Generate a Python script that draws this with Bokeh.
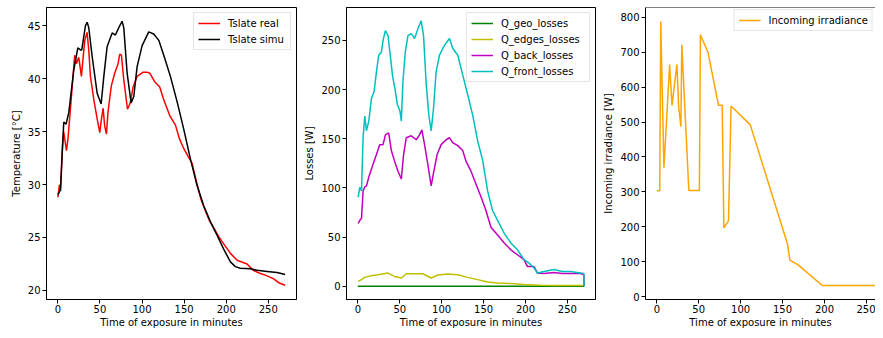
from bokeh.plotting import figure
from bokeh.layouts import row
from bokeh.models import Range1d, FixedTicker, Span
from bokeh.embed import file_html
from bokeh.resources import INLINE

FONT = "DejaVu Sans"

# ---------------- data ----------------
x_ticks = [0, 50, 100, 150, 200, 250]
temp_ticks = [20, 25, 30, 35, 40, 45]
loss_ticks = [0, 50, 100, 150, 200, 250]
irr_ticks = [0, 100, 200, 300, 400, 500, 600, 700, 800]

t_real = [0, 1.9, 3.1, 5.5, 6.9, 10.2, 12.0, 14.9, 20.0, 22.0, 24.8, 28.0, 30.0, 32.0,
          34.7, 36.7, 38.7, 42.7, 46.7, 49.8, 51.8, 53.8, 55.5, 57.7, 59.5, 63.5, 67.5,
          71.5, 73.5, 75.5, 78.3, 82.7, 86, 89.4, 94.1, 101.3, 106, 109.2, 115, 121,
          125.8, 132.9, 139.7, 144.5, 149.5, 155, 159.5, 165.4, 170, 175.3, 180, 185.2,
          191, 197, 205, 213, 224.8, 232, 240.6, 248, 256.4, 263, 270]
temp_real = [28.8, 30.0, 29.4, 33.7, 35.0, 33.2, 34.3, 37.1, 42.2, 41.4, 42.0, 40.2, 42.0,
             43.6, 44.35, 42.7, 40.2, 38.0, 36.2, 34.9, 36.2, 37.2, 35.6, 34.75, 36.8,
             39.3, 40.5, 41.4, 42.3, 42.2, 39.9, 37.1, 37.7, 39.2, 40.2, 40.6, 40.6, 40.5,
             39.7, 39.2, 38.0, 36.5, 35.6, 34.3, 33.4, 32.6, 32.0, 30.0, 28.6, 27.5, 26.6,
             25.9, 25.1, 24.4, 23.5, 22.85, 22.5, 21.9, 21.6, 21.4, 21.1, 20.7, 20.5]

t_simu = [0, 3.1, 7.0, 9.8, 13.0, 18.9, 23.7, 26.8, 28.4, 32.8, 34.8, 36.7, 40.7, 46.7,
          51.4, 54.6, 58.5, 64.5, 68.4, 72.4, 76.3, 78.3, 82.3, 87, 90.2, 94.1, 100.1,
          108, 113.9, 119.9, 125.8, 133.7, 141.7, 149.6, 157.5, 165.4, 173.3, 181.2,
          189.2, 197, 205, 210.9, 216.8, 228.7, 236.6, 248.5, 260.4, 270]
temp_simu = [29.05, 29.5, 35.9, 35.7, 36.8, 40.8, 42.9, 42.7, 42.7, 45.0, 45.3, 44.8, 42.1,
             38.6, 37.6, 40.2, 43.0, 44.3, 44.1, 44.8, 45.4, 44.8, 40.5, 37.7, 38.3, 41.1,
             43.1, 44.4, 44.2, 43.6, 42.2, 40.2, 37.8, 35.2, 32.4, 29.9, 28.0, 26.5, 25.2,
             23.9, 22.7, 22.25, 22.1, 22.05, 21.9, 21.8, 21.7, 21.5]

t_geo = [0, 270]
q_geo = [0, 0]

t_edges = [0.4, 4.4, 8.3, 16.2, 24.1, 36, 43.9, 51.9, 57.8, 67.7, 77.6, 87.5, 95.4, 107.3,
           119.2, 131, 142.9, 154.8, 166.7, 182.5, 198.3, 218.1, 237.9, 269.6]
q_edges = [5, 6.7, 9, 10.7, 11.7, 13.4, 10, 8.4, 12.7, 12.7, 12.7, 8.4, 11.4, 12.4, 11.7, 9,
           6.7, 4.4, 3.4, 2.7, 1.7, 1.0, 0.7, 0.7]

t_back = [0.4, 2.4, 4.4, 6.3, 8.3, 10.3, 13.1, 18.2, 22.2, 26.1, 30.1, 32.9, 36.8, 40,
          43.9, 47.9, 51.9, 54.6, 57.8, 63.7, 69.7, 73.6, 76.4, 79.6, 83.5, 87.5, 90.7,
          94.6, 99.4, 105.3, 109.3, 113.2, 119.2, 125.1, 129.1, 135, 140.9, 146.9, 152.8,
          158.8, 166.7, 174.6, 182.5, 190.4, 198.3, 202.3, 210.2, 214.2, 222.1, 234,
          243.9, 253.8, 265.6, 269.6, 270]
q_back = [63.8, 67, 69, 97, 101, 102, 111, 124, 134, 144, 144, 154, 156, 138, 127, 117, 109,
          134, 151, 153, 149, 154, 159, 144, 124, 102, 117, 134, 144, 149, 151, 146, 143,
          138, 127, 117, 104, 91, 77, 60, 52, 44, 37, 32, 27, 20, 20, 13.5, 13, 14, 13, 13,
          13, 12, 0]

t_front = [0.4, 2.4, 4.4, 6.3, 8.3, 10.3, 13.1, 16.2, 19.4, 22.2, 24.9, 28.1, 30.1, 32.9,
           36.0, 39.2, 41.6, 44.3, 47.1, 50.3, 51.9, 53.8, 56.6, 59.8, 63.7, 67.7, 71.7,
           75.6, 78.4, 81.6, 84.7, 87.5, 90.3, 93.4, 97.4, 103.3, 109.3, 113.2, 119.2,
           125.1, 131.0, 137.0, 142.9, 148.9, 154.8, 160.7, 166.7, 174.6, 182.5, 190.4,
           198.3, 204.3, 210.2, 214.2, 222.1, 234.0, 243.9, 253.8, 265.6, 269.6, 270]
q_front = [90.6, 100.7, 97, 151, 173, 158, 168, 191, 198, 218, 235, 238, 250, 260, 255, 231,
           213, 201, 185, 178, 168, 208, 238, 255, 257, 252, 262, 270, 255, 205, 174, 158,
           181, 218, 235, 245, 252, 242, 235, 215, 195, 174, 148, 128, 97, 77, 67, 54, 44,
           37, 27, 23.5, 18.5, 13.5, 15, 17, 15, 15, 13.5, 13, 0]

t_irr = [0, 3.5, 4.7, 8.5, 15.3, 18.1, 24, 26, 28.7, 29.8, 38.2, 50.8, 52, 61, 73.6, 78,
         80, 85.5, 88.6, 111.5, 156, 158.7, 168.6, 197.4, 270]
irr = [303, 303, 788, 369, 665, 548, 665, 545, 487, 721, 304, 304, 750, 700, 548, 548,
       197, 217, 546, 492, 150, 105, 91, 32, 32]

X_LABEL = "Time of exposure in minutes"


def style(p, yticks, ylabel):
    p.outline_line_color = "black"
    p.outline_line_width = 1
    p.xgrid.visible = False
    p.ygrid.visible = False
    p.xaxis.ticker = FixedTicker(ticks=x_ticks)
    p.yaxis.ticker = FixedTicker(ticks=yticks)
    p.xaxis.axis_label = X_LABEL
    p.yaxis.axis_label = ylabel
    for ax in (p.xaxis, p.yaxis):
        ax.axis_line_color = "black"
        ax.major_tick_line_color = "black"
        ax.major_tick_in = 0
        ax.major_tick_out = 4
        ax.minor_tick_line_color = None
        ax.major_label_text_font = FONT
        ax.major_label_text_font_size = "10px"
        ax.major_label_text_color = "black"
        ax.axis_label_text_font = FONT
        ax.axis_label_text_font_size = "10px"
        ax.axis_label_text_font_style = "normal"
        ax.axis_label_text_color = "black"
    p.xaxis.major_label_standoff = 1
    p.xaxis.axis_label_standoff = 1
    p.yaxis.major_label_standoff = 2
    p.yaxis.axis_label_standoff = 3


def style_legend(p, label_width):
    lg = p.legend[0]
    lg.label_text_font = FONT
    lg.label_text_font_size = "10px"
    lg.label_text_color = "black"
    lg.border_line_color = "#cccccc"
    lg.border_line_width = 1
    lg.background_fill_alpha = 0.8
    lg.padding = 4
    lg.spacing = 4
    lg.margin = 5
    lg.glyph_height = 12
    lg.label_height = 12
    lg.glyph_width = 22
    lg.label_standoff = 8
    lg.label_width = label_width
    return lg


H = 330

p1 = figure(width=301, height=H, output_backend="svg", toolbar_location=None,
            x_range=Range1d(-13.5, 283.5), y_range=Range1d(19.15, 46.7),
            min_border_left=46, min_border_right=5, min_border_top=7, min_border_bottom=0)
p1.line(t_real, temp_real, line_color="#ff0000", line_width=1.5, legend_label="Tslate real")
p1.line(t_simu, temp_simu, line_color="#000000", line_width=1.5, legend_label="Tslate simu")
style(p1, temp_ticks, "Temperature [°C]")
lg1 = style_legend(p1, 58)
lg1.location = "top_right"

p2 = figure(width=299, height=H, output_backend="svg", toolbar_location=None,
            x_range=Range1d(-13.5, 283.5), y_range=Range1d(-13.5, 283.5),
            min_border_left=44, min_border_right=5, min_border_top=7, min_border_bottom=0)
p2.line(t_geo, q_geo, line_color="#008000", line_width=1.5, legend_label="Q_geo_losses")
p2.line(t_edges, q_edges, line_color="#bfbf00", line_width=1.5, legend_label="Q_edges_losses")
p2.line(t_back, q_back, line_color="#bf00bf", line_width=1.5, legend_label="Q_back_losses")
p2.line(t_front, q_front, line_color="#00bfbf", line_width=1.5, legend_label="Q_front_losses")
style(p2, loss_ticks, "Losses [W]")
lg2 = style_legend(p2, 84)
lg2.location = "top_right"

p3 = figure(width=275, height=H, output_backend="svg", toolbar_location=None,
            x_range=Range1d(-13.5, 260.9), y_range=Range1d(-8, 828),
            min_border_left=44, min_border_right=0, min_border_top=7, min_border_bottom=0)
p3.line(t_irr, irr, line_color="#ffa500", line_width=1.5, legend_label="Incoming irradiance")
style(p3, irr_ticks, "Incoming irradiance [W]")
p3.outline_line_color = None
p3.add_layout(Span(location=828, dimension="width", line_color="black", line_width=1))
lg3 = style_legend(p3, 20)
lg3.location = "top_right"
lg3.margin = 2

layout = row(p1, p2, p3)

open("out.html", "w").write(file_html(layout, INLINE))
